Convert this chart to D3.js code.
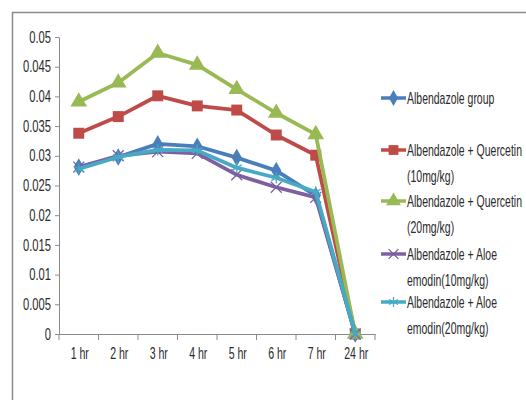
<!DOCTYPE html>
<html><head><meta charset="utf-8">
<script src="https://cdn.jsdelivr.net/npm/d3@7"></script>
<style>body{margin:0;background:#fff;} svg{display:block;}</style>
</head><body>
<script>
const categories = ["1 hr","2 hr","3 hr","4 hr","5 hr","6 hr","7 hr","24 hr"];
const albendazole = [0.0281,0.0298,0.0320,0.0316,0.0297,0.0275,0.0233,0];
const quercetin10 = [0.0338,0.0366,0.0401,0.0384,0.0377,0.0335,0.0301,0];
const quercetin20 = [0.0391,0.0423,0.0473,0.0453,0.0412,0.0372,0.0336,0];
const aloe10 = [0.0281,0.0300,0.0307,0.0304,0.0268,0.0247,0.0230,0];
const aloe20 = [0.0278,0.0298,0.0310,0.0309,0.0280,0.0263,0.0239,0];
const yTicks = [0,0.005,0.01,0.015,0.02,0.025,0.03,0.035,0.04,0.045,0.05];
const seriesNames = [["Albendazole group"],["Albendazole + Quercetin","(10mg/kg)"],["Albendazole + Quercetin","(20mg/kg)"],["Albendazole + Aloe","emodin(10mg/kg)"],["Albendazole + Aloe","emodin(20mg/kg)"]];

const W=526,H=400;
const svg=d3.select("body").append("svg").attr("width",W).attr("height",H);
const font="'Liberation Sans',Arial,sans-serif";
const txtColor="#2a2a2a";
const fs=16;
svg.append("rect").attr("x",12.5).attr("y",12.5).attr("width",W).attr("height",H).attr("fill","none").attr("stroke","#8c8c8c").attr("stroke-width",1.5);

const x=d3.scaleBand().domain(categories).range([59,375]);
const y=d3.scaleLinear().domain([0,0.05]).range([334,37]);
const axisColor="#8a8a8a";

const ya=svg.append("g").attr("transform","translate(59,0)").call(d3.axisLeft(y).tickValues(yTicks).tickSize(4).tickSizeOuter(0).tickFormat(d=>d===0?"0":String(+d.toFixed(3))));
ya.select(".domain").attr("stroke",axisColor);
ya.selectAll(".tick line").attr("stroke",axisColor);
ya.selectAll(".tick text").attr("font-family",font).attr("font-size",fs).attr("fill",txtColor)
  .attr("x",0).attr("transform","translate(-8,0) scale(0.7,1)");

const xa=svg.append("g").attr("transform","translate(0,334)").call(d3.axisBottom(x).tickSize(0).tickSizeOuter(0));
xa.select(".domain").attr("stroke",axisColor);
xa.selectAll(".tick text").attr("font-family",font).attr("font-size",fs).attr("fill",txtColor)
  .attr("y",0).attr("dy","0.71em").attr("transform","translate(1,14) scale(0.66,1)");
const bounds=[...categories.map(c=>x(c)),x.range()[1]];
svg.append("g").selectAll("line").data(bounds).join("line").attr("x1",d=>d).attr("x2",d=>d).attr("y1",334).attr("y2",340).attr("stroke",axisColor);

const colors=["#4a7ebb","#be4b48","#98b954","#7d60a0","#46aac5"];
const data=[albendazole,quercetin10,quercetin20,aloe10,aloe20];
const sym=[d3.symbolDiamond,d3.symbolSquare,d3.symbolTriangle,d3.symbolTimes,d3.symbolAsterisk];
const sizes=[90,120,120,80,90];
const cx=c=>x(c)+x.bandwidth()/2;
const line=d3.line().x((d,i)=>cx(categories[i])).y(d=>y(d));

function marker(g,i,size){
  const s=d3.symbol().type(sym[i]).size(size)();
  if(i>=3){
    g.append("path").attr("d",s).attr("fill","none").attr("stroke",colors[i]).attr("stroke-width",1.3);
  } else {
    g.append("path").attr("d",s).attr("fill",colors[i]);
  }
}

data.forEach((vals,i)=>{
  svg.append("path").datum(vals).attr("d",line).attr("fill","none").attr("stroke",colors[i]).attr("stroke-width",3.8).attr("stroke-linejoin","round");
  vals.forEach((v,j)=>{
    const g=svg.append("g").attr("transform",`translate(${cx(categories[j])},${y(v)})`);
    marker(g,i,sizes[i]);
  });
});

// legend
const legY=[98,150,201,254,302];
const lg=svg.append("g");
seriesNames.forEach((lines,i)=>{
  const g=lg.append("g").attr("transform",`translate(381,${legY[i]})`);
  g.append("line").attr("x1",0).attr("x2",25).attr("y1",0).attr("y2",0).attr("stroke",colors[i]).attr("stroke-width",3.5);
  const m=g.append("g").attr("transform","translate(12.5,0)");
  marker(m,i,sizes[i]*0.8);
  lines.forEach((t,k)=>{
    g.append("text").attr("transform",`translate(26,${k*26}) scale(0.655,1)`).attr("dy","0.35em").attr("font-family",font).attr("font-size",fs).attr("fill",txtColor).text(t);
  });
});
</script>
</body></html>
